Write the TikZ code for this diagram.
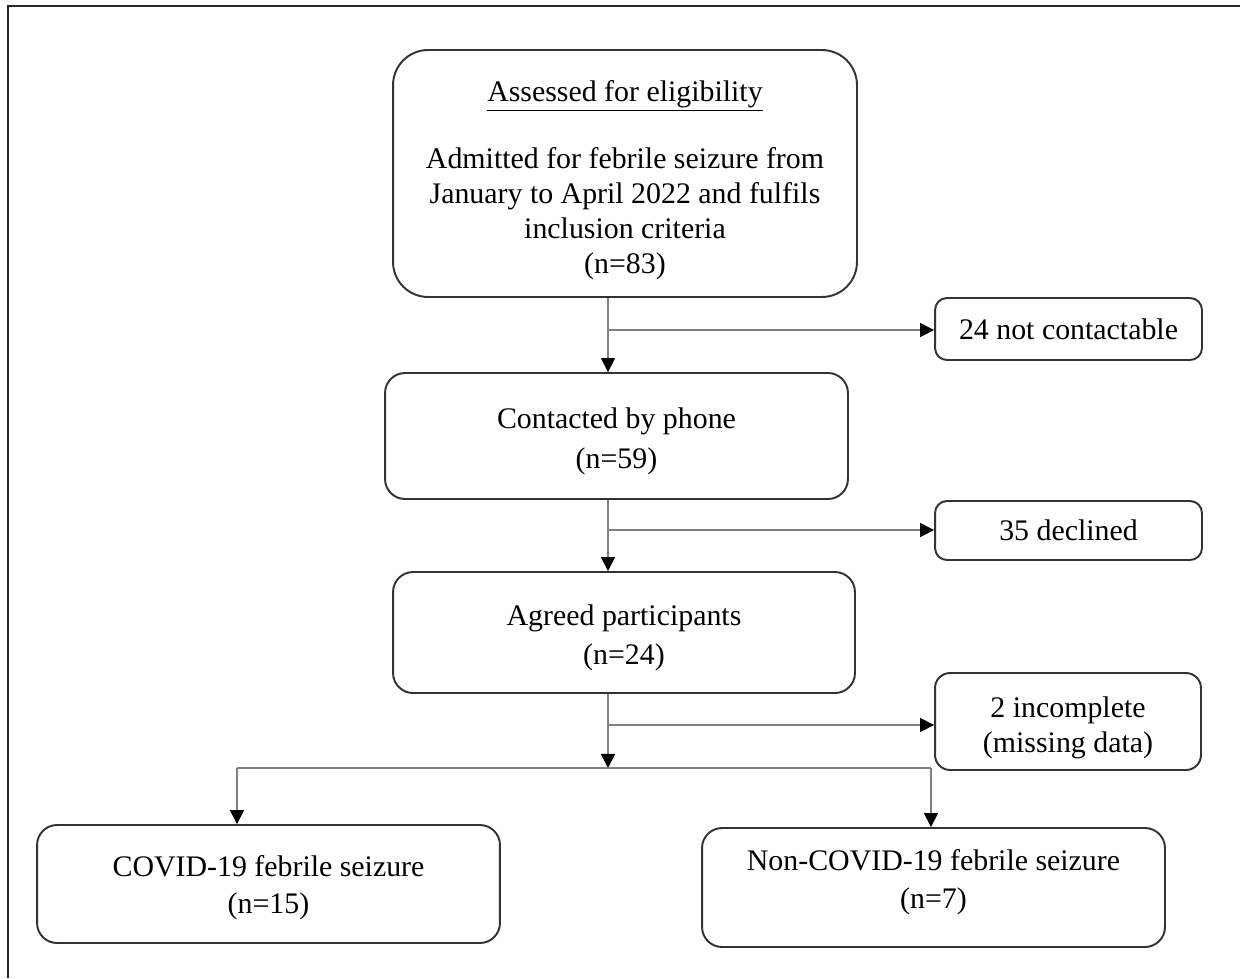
\documentclass[tikz,border=0pt]{standalone}
\usepackage{fontspec}
\setmainfont{Liberation Serif}
\usetikzlibrary{arrows.meta}
\begin{document}
\begin{tikzpicture}[x=0.02cm,y=-0.02cm,
  box/.style={draw=black!80, line width=1.1pt, align=center, inner sep=0pt,
    font=\fontsize{17}{20}\selectfont},
  conn/.style={draw=black!50, line width=0.9pt, -{Triangle[length=8pt,width=8pt,color=black]}},
  line/.style={draw=black!50, line width=0.9pt},
  frame/.style={draw=black!85, line width=1.7pt}]
\useasboundingbox (0,0) rectangle (1240,978);
\draw[frame] (8,978) -- (8,6) -- (1240,6);
\node[box, rounded corners=0.7cm, minimum width=9.28cm, minimum height=4.94cm] (A) at (625,173.5)
  {\rule{0pt}{20pt}\underline{Assessed for eligibility}\\[18pt]Admitted for febrile seizure from\\January to April 2022 and fulfils\\inclusion criteria\\(n=83)};
\node[box, rounded corners=0.24cm, minimum width=5.34cm, minimum height=1.24cm] (nc) at (1068.5,329) {24 not contactable};
\node[box, rounded corners=0.4cm, minimum width=9.26cm, minimum height=2.52cm] (B) at (616.5,436) {\rule{0pt}{18pt}Contacted by phone\\[2.5pt](n=59)};
\node[box, rounded corners=0.24cm, minimum width=5.34cm, minimum height=1.18cm] (dec) at (1068.5,530.5) {35 declined};
\node[box, rounded corners=0.4cm, minimum width=9.24cm, minimum height=2.42cm] (C) at (624,632.5) {\rule{0pt}{18pt}Agreed participants\\[2pt](n=24)};
\node[box, rounded corners=0.3cm, minimum width=5.32cm, minimum height=1.94cm] (inc) at (1068,721.5) {\rule{0pt}{19pt}2 incomplete\\(missing data)};
\node[box, rounded corners=0.4cm, minimum width=9.26cm, minimum height=2.36cm] (cov) at (268.5,884) {\rule{0pt}{16pt}COVID-19 febrile seizure\\[1.5pt](n=15)};
\node[box, rounded corners=0.4cm, minimum width=9.26cm, minimum height=2.38cm] (non) at (933.5,887.5) {Non-COVID-19 febrile seizure\\[1.5pt](n=7)\rule[-10pt]{0pt}{0pt}};
\coordinate (t1) at (608,330);
\coordinate (t2) at (608,530);
\coordinate (t3) at (608,725);
\coordinate (sp) at (608,768);
\coordinate (sl) at (237,768);
\coordinate (sr) at (931,768);
\draw[conn] (A.south -| t1) -- (B.north -| t1);
\draw[conn] (t1) -- (t1 -| nc.west);
\draw[conn] (B.south -| t2) -- (C.north -| t2);
\draw[conn] (t2) -- (t2 -| dec.west);
\draw[conn] (C.south -| t3) -- (sp);
\draw[conn] (t3) -- (t3 -| inc.west);
\draw[line] (sl) -- (sr);
\draw[conn] (sl) -- (cov.north -| sl);
\draw[conn] (sr) -- (non.north -| sr);
\end{tikzpicture}
\end{document}
